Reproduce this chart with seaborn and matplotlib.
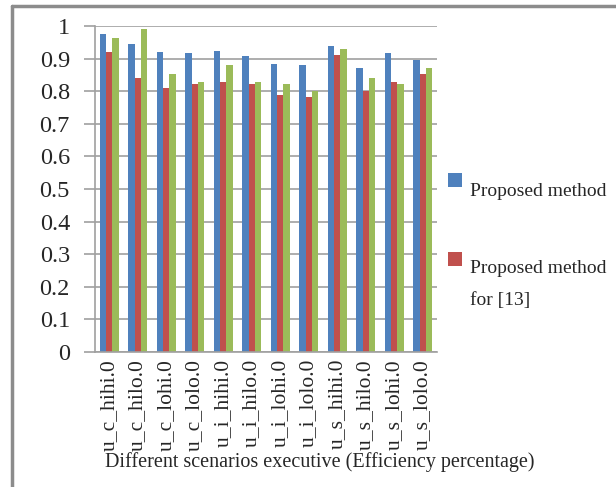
import matplotlib
matplotlib.use("Agg")
import matplotlib.pyplot as plt
from matplotlib.lines import Line2D
from matplotlib.patches import Rectangle
import numpy as np
import pandas as pd
import seaborn as sns

scenarios = ["u_c_hihi.0", "u_c_hilo.0", "u_c_lohi.0", "u_c_lolo.0",
             "u_i_hihi.0", "u_i_hilo.0", "u_i_lohi.0", "u_i_lolo.0",
             "u_s_hihi.0", "u_s_hilo.0", "u_s_lohi.0", "u_s_lolo.0"]
proposed = [0.975, 0.944, 0.919, 0.916, 0.923, 0.907, 0.884, 0.879, 0.938, 0.872, 0.916, 0.895]
proposed_13 = [0.919, 0.840, 0.809, 0.821, 0.829, 0.821, 0.788, 0.781, 0.911, 0.800, 0.829, 0.852]
reference_13 = [0.962, 0.990, 0.852, 0.829, 0.879, 0.829, 0.821, 0.800, 0.930, 0.840, 0.821, 0.872]
series_names = ["Proposed method", "Proposed method for [13]", "Method of [13]"]
y_ticks = [0, 0.1, 0.2, 0.3, 0.4, 0.5, 0.6, 0.7, 0.8, 0.9, 1]
x_title = "Different scenarios executive (Efficiency percentage)"

colors = ["#4F81BD", "#C0504D", "#9BBB59"]
grid_col = "#a0a0a0"

df = pd.DataFrame({
    "scenario": scenarios * 3,
    "value": proposed + proposed_13 + reference_13,
    "series": np.repeat(series_names, len(scenarios)),
})

sns.set_theme(style="white")
plt.rcParams["font.family"] = ["Liberation Serif", "DejaVu Serif"]

W, H = 616, 487
fig = plt.figure(figsize=(W / 100, H / 100), dpi=100)
ax = fig.add_axes([95 / W, 1 - 352 / H, (437 - 95) / W, (352 - 26) / H])

sns.barplot(data=df, x="scenario", y="value", hue="series", palette=colors,
            width=0.68, gap=0, saturation=1, errorbar=None, ax=ax, legend=False,
            edgecolor="none", linewidth=0)

ax.set_ylim(0, 1)
ax.set_xlim(-0.5, len(scenarios) - 0.5)
ax.set_yticks(y_ticks)
ax.set_yticklabels([f"{v:g}" for v in y_ticks], fontsize=17.5)
ax.yaxis.grid(True, color=grid_col, linewidth=1.2)
ax.set_axisbelow(True)

# category labels at group centres, tick marks on group boundaries
ax.set_xticks(range(len(scenarios)))
ax.set_xticklabels(scenarios, rotation=90, fontsize=15.5, va="top", ha="center")
ax.tick_params(axis="x", which="major", length=0, pad=5)
ax.set_xticks(np.arange(-0.5, len(scenarios)), minor=True)
ax.tick_params(axis="x", which="minor", length=6, color=grid_col, width=1.2, direction="out")
ax.tick_params(axis="y", length=8, color=grid_col, width=1.2, direction="out", pad=10, left=True)

for s in ["top", "right"]:
    ax.spines[s].set_visible(False)
for s in ["left", "bottom"]:
    ax.spines[s].set_color(grid_col)
    ax.spines[s].set_linewidth(1.2)

ax.set_xlabel("")
ax.set_ylabel("")
fig.text(320 / W, 1 - 462 / H, x_title, fontsize=14.5, ha="center", va="center", zorder=5)

# key for the first two series: colour swatch with the label set just below its top
key_rows = [
    (173, [(196, "Proposed method")]),
    (252, [(273, "Proposed method"), (305, "for [13]")]),
]
for i, (top, lines) in enumerate(key_rows):
    fig.add_artist(Rectangle((448 / W, 1 - (top + 14) / H), 14 / W, 14 / H,
                             transform=fig.transFigure, facecolor=colors[i], edgecolor="none"))
    for base, txt in lines:
        fig.text(470 / W, 1 - base / H, txt, fontsize=14, ha="left", va="baseline")

# outer chart frame
fig.add_artist(Line2D([12 / W, 12 / W], [0, 1 - 6 / H], transform=fig.transFigure,
                      color="#8c8c8c", linewidth=2.5))
fig.add_artist(Line2D([12 / W, 1], [1 - 6 / H, 1 - 6 / H], transform=fig.transFigure,
                      color="#8c8c8c", linewidth=2.5))

fig.savefig("out.png", dpi=100)
